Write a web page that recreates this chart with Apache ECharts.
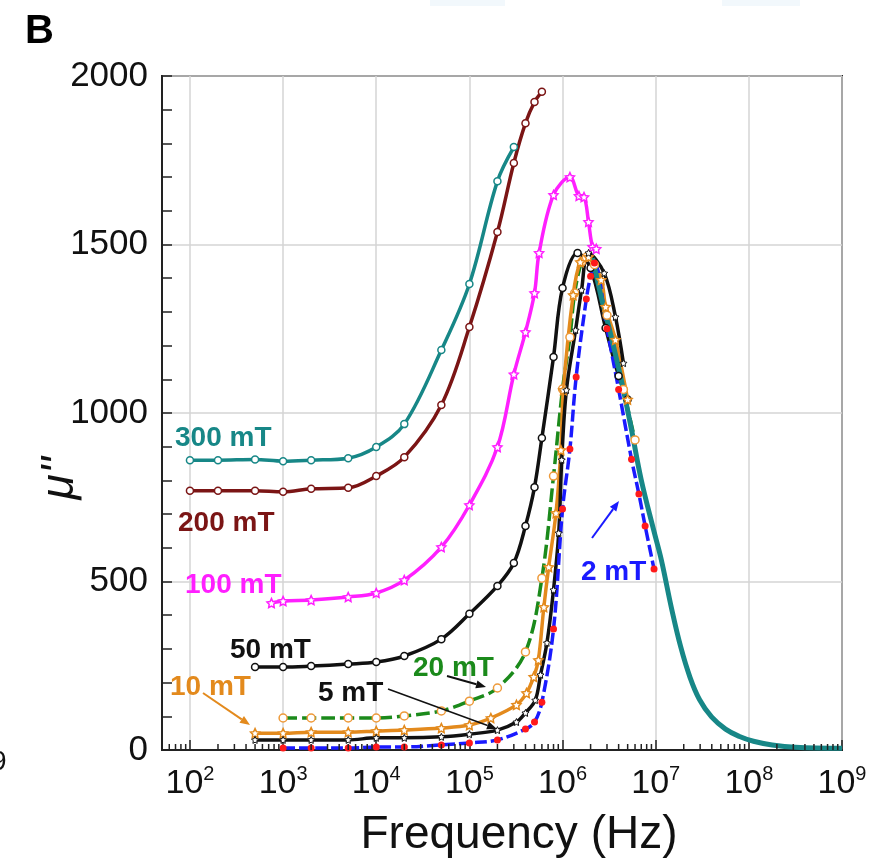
<!DOCTYPE html>
<html>
<head>
<meta charset="utf-8">
<script src="https://cdn.jsdelivr.net/npm/echarts@6/dist/echarts.min.js"></script>
<style>html,body{margin:0;padding:0;background:#fff;}#c{width:871px;height:866px;}</style>
</head>
<body>
<div id="c"></div>
<script>
// ---- data (frequency in Hz, mu'' values) ----
const f300 = [100,200,500,1e3,2e3,5e3,1e4,2e4,5e4,1e5,2e5,3e5];
const v300 = [860,860,862,857,860,866,899,967,1187,1383,1688,1789];

const f200 = [100,200,500,1e3,2e3,5e3,1e4,2e4,5e4,1e5,2e5,3e5,4e5,5e5,6e5];
const v200 = [769,769,769,766,775,778,813,869,1024,1255,1537,1742,1860,1923,1953];

const f100 = [750,1e3,2e3,5e3,1e4,2e4,5e4,1e5,2e5,3e5,4e5,5e5,5.6e5,8e5,1.2e6,1.5e6,1.7e6,1.9e6,2.1e6,2.3e6];
const v100 = [436,442,445,454,466,504,602,727,899,1115,1240,1356,1475,1647,1700,1644,1641,1567,1493,1487];

const f50 = [500,1e3,2e3,5e3,1e4,2e4,5e4,1e5,2e5,3e5,4e5,5e5,6e5,8e5,1e6,1.45e6,2e6,2.9e6,4e6,5e6];
const v50 = [246,246,249,255,261,279,329,404,487,555,665,780,926,1166,1371,1475,1430,1252,1110,1040];

const f20 = [1e3,2e3,5e3,1e4,2e4,5e4,1e5,2e5,4e5,6e5,8e5,1e6,1.2e6,1.35e6,1.6e6,1.8e6,2.2e6,3e6,4.5e6,6e6];
const v20 = [95,95,95,95,101,116,145,184,291,510,813,1071,1225,1356,1448,1462,1440,1290,1070,920];

const f10 = [500,1e3,2e3,5e3,1e4,2e4,5e4,1e5,1.7e5,3.2e5,4.1e5,4.9e5,5.5e5,6.3e5,7.1e5,8.5e5,9.6e5,1.02e6,1.3e6,1.55e6,1.9e6,2.6e6,2.9e6,3.7e6,5e6];
const v10 = [50,50,53,53,56,59,65,74,95,134,169,217,267,424,543,703,890,1068,1350,1448,1463,1395,1315,1217,1040];

const f5 = [500,1e3,2e3,5e3,1e4,2e4,5e4,1e5,2e5,3.2e5,4e5,5.1e5,5.8e5,6.8e5,8e5,9.1e5,9.8e5,1.1e6,1.38e6,1.6e6,1.9e6,2.8e6,3.7e6,4.5e6];
const v5 = [30,30,30,30,36,36,39,47,59,83,110,148,223,318,475,644,861,1068,1246,1365,1475,1415,1285,1148];

const f2 = [1e3,2e3,5e3,1e4,2e4,5e4,1e5,2e5,4e5,5e5,6e5,8e5,1e6,1.2e6,1.4e6,1.8e6,2e6,2.2e6,3e6,4e6,5.5e6,6.6e6,7.7e6,9.6e6];
const v2 = [6,6,6,9,9,15,21,30,62,83,142,359,715,893,1107,1338,1406,1445,1250,1070,863,760,665,537];

const fFit = [2.1e6,2.6e6,3.2e6,4.2e6,5.5e6,7e6,9.5e6,1.15e7,1.48e7,1.86e7,2.34e7,2.95e7,3.98e7,5.62e7,7.94e7,1.12e8,1.78e8,3.16e8,1e9];
const vFit = [1460,1344,1246,1107,950,801,653,564,420,305,215,150,98,62,40,26,15,8,5];

const xDecades = [2,3,4,5,6,7,8,9];      // tick labels 10^n
const yTicks = [0,500,1000,1500,2000];

// ---- helpers ----
const pts = (f, v) => f.map((x, i) => [Math.log10(x), v[i]]);
const minorX = [];
for (let n = 1; n <= 8; n++) for (let k = 2; k <= 9; k++) {
  const lv = Math.log10(k * Math.pow(10, n));
  if (lv > 1.7 && lv < 9) minorX.push([lv, 0]);
}
const STAR = 'path://M0,-10L2.9,-4L9.5,-3.1L4.8,1.5L5.9,8.1L0,5L-5.9,8.1L-4.8,1.5L-9.5,-3.1L-2.9,-4Z';
const FONT = 'Liberation Sans, Arial, sans-serif';

const C = {teal:'#178787', brown:'#7b1515', mag:'#ff1fff', black:'#111111', green:'#1b8a1b',
           orange:'#e38a1d', blue:'#1a1aff', red:'#ff1a1a'};

function lineSeries(name, data, color, opt) {
  opt = opt || {};
  return Object.assign({
    name, type:'line', data, smooth:0.35, symbol:'circle', symbolSize:7, showSymbol:true,
    lineStyle:{color, width:3.5, type: opt.dash || 'solid'},
    itemStyle:{color:'#fff', borderColor:color, borderWidth:1.5},
    emphasis:{disabled:true}, animation:false
  }, opt.extra || {});
}

function arrow(x1, y1, x2, y2, color, w) {
  const a = Math.atan2(y2 - y1, x2 - x1), L = 10, H = 4;
  const bx = x2 - L*Math.cos(a), by = y2 - L*Math.sin(a);
  return [
    {type:'line', shape:{x1, y1, x2:bx, y2:by}, style:{stroke:color, lineWidth:w}, silent:true, z:100},
    {type:'polygon', shape:{points:[[x2,y2],[bx + H*Math.sin(a), by - H*Math.cos(a)],[bx - H*Math.sin(a), by + H*Math.cos(a)]]},
     style:{fill:color}, silent:true, z:100}
  ];
}
function label(text, x, y, color) {
  return {type:'text', x, y, z:100, silent:true,
    style:{text, fill:color, font:'bold 28px ' + FONT, textAlign:'left', textVerticalAlign:'middle'}};
}

const chart = echarts.init(document.getElementById('c'), null, {renderer:'canvas'});
chart.setOption({
  animation:false,
  backgroundColor:'#fff',
  grid:{left:162, right:29, top:76, bottom:116, show:true, borderColor:'#222', borderWidth:2, backgroundColor:'transparent'},
  xAxis:{
    type:'value', min:1.7, max:9, splitNumber:8,
    axisLine:{show:true, onZero:false, lineStyle:{color:'#222', width:2}},
    axisTick:{show:true, inside:true, length:10, lineStyle:{color:'#222', width:1.5}},
    axisLabel:{
      margin:14, color:'#111',
      formatter: v => {
        const r = Math.round(v);
        return (Math.abs(v - r) < 1e-6 && xDecades.indexOf(r) >= 0) ? '{b|10}{s|' + r + '}' : '';
      },
      rich:{
        b:{fontSize:34, fontFamily:FONT, color:'#111', lineHeight:40},
        s:{fontSize:20, fontFamily:FONT, color:'#111', verticalAlign:'top', lineHeight:40}
      }
    },
    splitLine:{show:true, lineStyle:{color:'#d4d4d4', width:1.5}}
  },
  yAxis:{
    type:'value', min:yTicks[0], max:yTicks[yTicks.length-1], interval:500,
    axisLine:{show:true, onZero:false, lineStyle:{color:'#222', width:2}},
    axisTick:{show:true, inside:true, length:10, lineStyle:{color:'#222', width:1.5}},
    minorTick:{show:true, splitNumber:5, length:10, lineStyle:{color:'#222', width:1.5}},
    axisLabel:{margin:14, fontSize:35, fontFamily:FONT, color:'#111', formatter: v => String(v)},
    splitLine:{show:true, lineStyle:{color:'#d4d4d4', width:1.5}}
  },
  series:[
    lineSeries('300 mT', pts(f300, v300), C.teal),
    lineSeries('200 mT', pts(f200, v200), C.brown),
    lineSeries('100 mT', pts(f100, v100), C.mag, {extra:{symbol:STAR, symbolSize:9}}),
    lineSeries('50 mT', pts(f50, v50), C.black),
    lineSeries('20 mT', pts(f20, v20), C.green, {dash:[14,5],
      extra:{symbolSize:8, itemStyle:{color:'#fff', borderColor:'#ee9a3a', borderWidth:1.5}}}),
    lineSeries('10 mT', pts(f10, v10), C.orange, {extra:{symbol:STAR, symbolSize:9,
      itemStyle:{color:'#fff', borderColor:C.orange, borderWidth:1.5}}}),
    lineSeries('5 mT', pts(f5, v5), C.black, {extra:{symbol:STAR, symbolSize:7,
      itemStyle:{color:'#fff', borderColor:'#111', borderWidth:1}}}),
    lineSeries('2 mT', pts(f2, v2), C.blue, {dash:[12,4],
      extra:{symbolSize:7, itemStyle:{color:C.red, borderColor:C.red, borderWidth:0}}}),
    {name:'fit', type:'line', data:pts(fFit, vFit), smooth:0.4, showSymbol:false, symbol:'none',
      lineStyle:{color:C.teal, width:5}, emphasis:{disabled:true}, z:3},
    {name:'minor', type:'custom', data:minorX, silent:true, z:10, clip:false,
      renderItem:(params, api) => {
        const p = api.coord([api.value(0), 0]);
        return {type:'line', shape:{x1:p[0], y1:p[1], x2:p[0], y2:p[1]-6}, style:{stroke:'#222', lineWidth:1.5}};
      }}
  ],
  graphic:[
    {type:'rect', shape:{x:430, y:0, width:75, height:6}, style:{fill:'#f2f8fc'}, silent:true},
    {type:'rect', shape:{x:722, y:0, width:78, height:6}, style:{fill:'#f2f8fc'}, silent:true},
    {type:'text', x:25, y:12, style:{text:'B', font:'bold 40px ' + FONT, fill:'#000'}},
    {type:'text', x:-9, y:762, style:{text:'9', font:'28px ' + FONT, fill:'#111', textVerticalAlign:'middle'}},
    {type:'text', x:519, y:835, style:{text:'Frequency (Hz)', font:'46px ' + FONT, fill:'#111', textAlign:'center', textVerticalAlign:'middle'}},
    {type:'text', x:60, y:478, rotation:Math.PI/2, style:{text:"\u03bc''", font:'italic 46px ' + FONT, fill:'#111', textAlign:'center', textVerticalAlign:'middle'}},
    label('300 mT', 175, 438, C.teal),
    label('200 mT', 178, 523, C.brown),
    label('100 mT', 185, 585, C.mag),
    label('50 mT', 230, 650, C.black),
    label('20 mT', 413, 668, C.green),
    label('10 mT', 170, 687, C.orange),
    label('5 mT', 318, 693, C.black),
    label('2 mT', 581, 572, C.blue),
    ...arrow(203, 693, 250, 725, C.orange, 2),
    ...arrow(447, 676, 486, 687, C.black, 2),
    ...arrow(388, 689, 497, 729, C.black, 1.5),
    ...arrow(592, 538, 619, 501, C.blue, 2)
  ]
});
</script>
</body>
</html>
